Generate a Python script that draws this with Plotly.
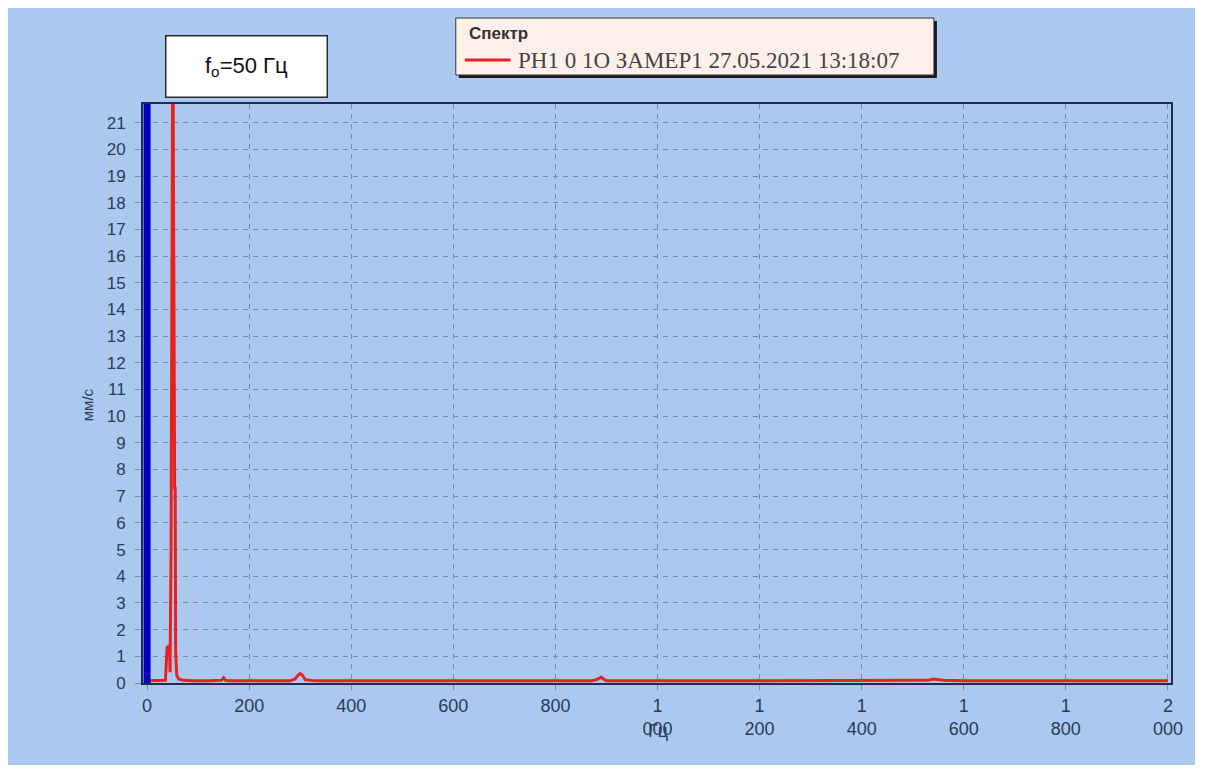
import plotly.graph_objects as go

# ---- data ----
freq_hz = [0, 10, 20, 30, 36, 39, 40, 44, 45, 47, 49, 50, 51, 52, 53, 54, 55, 56, 58, 62, 70, 90, 120,
           140, 146, 150, 154, 160, 200, 250, 280, 290, 296, 300, 304, 310, 330, 400, 500, 600, 700,
           800, 870, 880, 886, 890, 894, 900, 1000, 1100, 1200, 1300, 1400, 1500, 1530, 1540, 1550,
           1560, 1600, 1700, 1800, 1900, 2000]
amp_mm_s = [0.08, 0.08, 0.08, 0.08, 0.1, 1.3, 1.35, 1.4, 0.4, 5.0, 22.5, 22.5, 22.5, 15.2, 15.2, 7.3,
            7.3, 1.2, 0.3, 0.15, 0.1, 0.08, 0.08, 0.08, 0.1, 0.2, 0.1, 0.08, 0.08, 0.08, 0.08, 0.15,
            0.3, 0.35, 0.3, 0.12, 0.08, 0.08, 0.08, 0.08, 0.08, 0.08, 0.08, 0.12, 0.2, 0.22, 0.15,
            0.08, 0.08, 0.08, 0.08, 0.08, 0.08, 0.08, 0.1, 0.15, 0.12, 0.1, 0.08, 0.08, 0.08, 0.08, 0.08]
series_name = "PH1 0 1O ЗАМЕР1 27.05.2021 13:18:07"
legend_title = "Спектр"
cursor_hz = 0
alarm_level = 1
x_tickvals = [0, 200, 400, 600, 800, 1000, 1200, 1400, 1600, 1800, 2000]
x_ticktext = ["0", "200", "400", "600", "800", "1<br>000", "1<br>200", "1<br>400",
              "1<br>600", "1<br>800", "2<br>000"]
y_tickvals = list(range(0, 22))
x_title = "Гц"
y_title = "мм/с"
f0_label = "f<sub>o</sub>=50 Гц"

# ---- figure geometry (page has an 8px body margin) ----
OFF = 8
W, H = 1187, 757
L, R, T, B = 135, 20, 96, 82
pw, ph = W - L - R, H - T - B


def px_x(p):
    return (p - OFF - L) / pw


def px_y(p):
    return (H - B - (p - OFF)) / ph


BG = "#abc9ee"
TICK_COLOR = "#2b3b58"
SERIES_COLOR = "#e8211f"

fig = go.Figure()
fig.add_trace(go.Scatter(
    x=freq_hz, y=amp_mm_s, mode="lines", name=series_name,
    line=dict(color=SERIES_COLOR, width=3), showlegend=False,
))

shapes = [
    # alarm level
    dict(type="line", xref="paper", yref="y", x0=0, x1=1, y0=alarm_level, y1=alarm_level,
         line=dict(color="#e99aa6", width=1.2, dash="5px,5px"), layer="below"),
    # cursor
    dict(type="line", xref="x", yref="paper", x0=cursor_hz, x1=cursor_hz, y0=0, y1=1,
         line=dict(color="#0000c4", width=7)),
    # legend shadow
    dict(type="rect", xref="paper", yref="paper",
         x0=px_x(460), x1=px_x(940), y0=px_y(78), y1=px_y(21),
         fillcolor="#1a1a1a", line=dict(width=0)),
    # legend box
    dict(type="rect", xref="paper", yref="paper",
         x0=px_x(457), x1=px_x(937), y0=px_y(75), y1=px_y(18),
         fillcolor="#fdf0ea", line=dict(color="#333", width=1)),
    # legend sample line
    dict(type="line", xref="paper", yref="paper",
         x0=px_x(466), x1=px_x(512), y0=px_y(60), y1=px_y(60),
         line=dict(color=SERIES_COLOR, width=3)),
]

annotations = [
    dict(text=f0_label, xref="paper", yref="paper", x=px_x(246.5), y=px_y(66),
         showarrow=False, width=158, height=58, bgcolor="white", bordercolor="#2a2a2a",
         borderwidth=1.5, borderpad=1, font=dict(family="Liberation Sans", size=22, color="#111"),
         xanchor="center", yanchor="middle"),
    dict(text="<b>" + legend_title + "</b>", xref="paper", yref="paper", x=px_x(468), y=px_y(34),
         showarrow=False, xanchor="left", yanchor="middle",
         font=dict(family="Liberation Sans", size=17, color="#333")),
    dict(text=series_name, xref="paper", yref="paper", x=px_x(517), y=px_y(60),
         showarrow=False, xanchor="left", yanchor="middle",
         font=dict(family="Liberation Serif", size=23, color="#444")),
    dict(text=x_title, xref="x", yref="paper", x=1000, y=px_y(731), showarrow=False,
         font=dict(family="Liberation Sans", size=18, color=TICK_COLOR),
         xanchor="center", yanchor="middle"),
    dict(text=y_title, xref="paper", yref="paper", x=px_x(88), y=px_y(405), showarrow=False,
         textangle=-90, font=dict(family="Liberation Sans", size=15, color=TICK_COLOR),
         xanchor="center", yanchor="middle"),
]

fig.update_layout(
    width=W, height=H,
    margin=dict(l=L, r=R, t=T, b=B),
    paper_bgcolor=BG, plot_bgcolor=BG,
    shapes=shapes, annotations=annotations,
    showlegend=False,
    xaxis=dict(
        range=[-8, 2006], tickvals=x_tickvals, ticktext=x_ticktext,
        showgrid=True, gridcolor="#7288aa", griddash="5px,5px", gridwidth=1,
        zeroline=False, showline=True, linecolor="#1f2d4a", linewidth=2, mirror=True,
        ticks="outside", ticklen=5, tickcolor="#7a8aa6",
        tickfont=dict(family="Liberation Sans", size=18, color=TICK_COLOR),
    ),
    yaxis=dict(
        range=[0, 21.7], tickvals=y_tickvals,
        showgrid=True, gridcolor="#7288aa", griddash="5px,5px", gridwidth=1,
        zeroline=False, showline=True, linecolor="#1f2d4a", linewidth=2, mirror=True,
        ticks="outside", ticklen=6, tickcolor="#7a8aa6", ticklabelstandoff=6,
        tickfont=dict(family="Liberation Sans", size=17, color=TICK_COLOR),
    ),
)

fig.write_html("out.html")
